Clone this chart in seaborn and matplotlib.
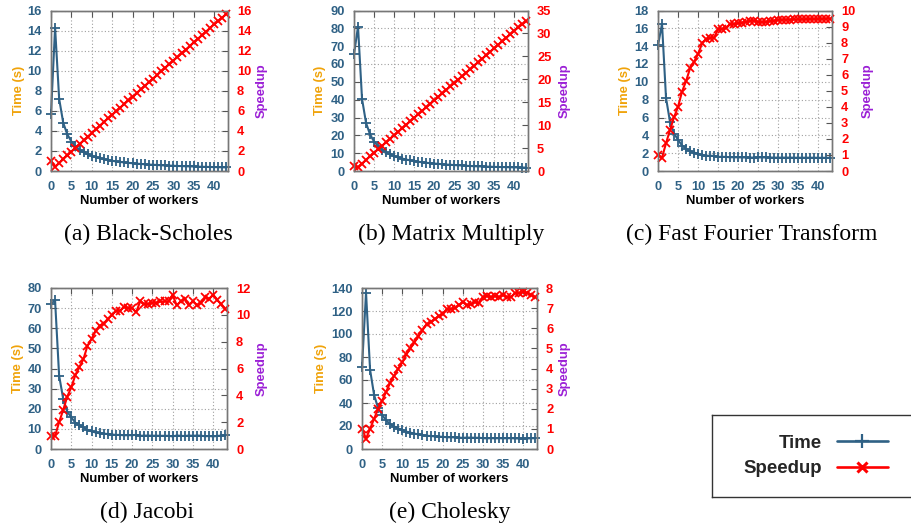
import matplotlib
matplotlib.use("Agg")
import matplotlib.pyplot as plt
import seaborn as sns
import numpy as np
from matplotlib.lines import Line2D

sns.set_theme(style="white")
plt.rcParams['font.family'] = ['Liberation Sans', 'DejaVu Sans']

workers = list(range(44))

bs_time = [5.7, 14.3, 7.2, 4.8, 3.65, 2.94, 2.47, 2.13, 1.87, 1.67, 1.50, 1.37, 1.26, 1.17, 1.09,
           1.02, 0.95, 0.90, 0.85, 0.81, 0.77, 0.73, 0.70, 0.67, 0.64, 0.62, 0.60, 0.57, 0.55,
           0.54, 0.52, 0.50, 0.49, 0.47, 0.46, 0.45, 0.43, 0.42, 0.41, 0.40, 0.39, 0.38, 0.37, 0.36]
bs_speed = [1.0, 0.4, 0.79, 1.18, 1.56, 1.94, 2.31, 2.68, 3.05, 3.42, 3.79, 4.16, 4.53, 4.89, 5.25,
            5.61, 5.97, 6.33, 6.69, 7.05, 7.41, 7.77, 8.13, 8.49, 8.85, 9.21, 9.57, 9.93, 10.29,
            10.65, 11.01, 11.37, 11.73, 12.09, 12.45, 12.81, 13.17, 13.53, 13.89, 14.25, 14.61,
            14.97, 15.30, 15.65]

mm_time = [65.5, 81.0, 40.5, 27.0, 20.5, 16.5, 14.0, 12.0, 10.5, 9.3, 8.4, 7.6, 7.0, 6.4, 6.0,
           5.6, 5.2, 4.9, 4.6, 4.4, 4.2, 4.0, 3.8, 3.6, 3.5, 3.3, 3.2, 3.1, 2.9, 2.8, 2.7, 2.6,
           2.55, 2.45, 2.4, 2.3, 2.25, 2.2, 2.15, 2.1, 2.05, 2.0, 1.95, 1.9]
mm_speed = [1.0, 0.81, 1.62, 2.43, 3.2, 3.97, 4.73, 5.5, 6.26, 7.03, 7.79, 8.55, 9.31, 10.07,
            10.83, 11.59, 12.35, 13.11, 13.87, 14.63, 15.39, 16.15, 16.91, 17.67, 18.43, 19.19,
            19.95, 20.71, 21.47, 22.23, 22.99, 23.75, 24.51, 25.27, 26.03, 26.79, 27.55, 28.31,
            29.07, 29.83, 30.59, 31.35, 32.0, 32.7]

fft_time = [14.1, 16.5, 8.2, 5.5, 4.2, 3.5, 2.85, 2.5, 2.2, 2.07, 1.93, 1.77, 1.72, 1.70, 1.70,
            1.59, 1.59, 1.58, 1.54, 1.54, 1.53, 1.52, 1.52, 1.51, 1.50, 1.52, 1.52, 1.52, 1.51,
            1.50, 1.50, 1.50, 1.50, 1.50, 1.49, 1.49, 1.49, 1.49, 1.49, 1.49, 1.48, 1.48, 1.48, 1.48]
fft_speed = [1.0, 0.83, 1.73, 2.56, 3.35, 4.0, 4.95, 5.6, 6.4, 6.8, 7.3, 7.95, 8.2, 8.3, 8.3,
             8.85, 8.85, 8.9, 9.15, 9.15, 9.2, 9.25, 9.3, 9.35, 9.37, 9.3, 9.27, 9.3, 9.33, 9.37,
             9.42, 9.42, 9.43, 9.43, 9.44, 9.45, 9.45, 9.46, 9.47, 9.47, 9.48, 9.48, 9.49, 9.5]

jac_time = [72.0, 74.0, 36.5, 25.0, 18.6, 15.7, 13.1, 11.8, 10.7, 9.4, 8.8, 8.2, 7.8, 7.7, 7.4,
            7.2, 7.0, 7.0, 6.8, 6.85, 6.85, 7.05, 6.55, 6.65, 6.65, 6.6, 6.6, 6.55, 6.55, 6.55,
            6.25, 6.7, 6.55, 6.45, 6.7, 6.55, 6.7, 6.6, 6.35, 6.45, 6.25, 6.5, 6.65, 6.9]
jac_speed = [1.0, 0.97, 2.0, 2.9, 3.9, 4.6, 5.5, 6.1, 6.7, 7.7, 8.2, 8.8, 9.2, 9.35, 9.7, 10.0,
             10.3, 10.3, 10.6, 10.5, 10.5, 10.2, 11.0, 10.8, 10.8, 10.9, 10.9, 11.0, 11.0, 11.0,
             11.5, 10.7, 11.0, 11.2, 10.7, 11.0, 10.7, 10.9, 11.3, 11.2, 11.5, 11.1, 10.8, 10.4]

cho_time = [71.0, 136.0, 69.0, 47.0, 35.5, 29.6, 24.9, 21.5, 19.5, 17.8, 16.5, 15.1, 14.2, 13.4,
            12.7, 12.0, 11.5, 11.3, 11.0, 10.8, 10.6, 10.2, 10.2, 10.1, 9.9, 9.7, 9.9, 9.9, 9.7,
            9.8, 9.4, 9.3, 9.4, 9.3, 9.4, 9.3, 9.4, 9.4, 9.2, 9.2, 9.1, 9.2, 9.3, 9.4]
cho_speed = [1.0, 0.52, 1.0, 1.5, 2.0, 2.4, 2.85, 3.3, 3.65, 4.0, 4.3, 4.7, 5.0, 5.3, 5.6, 5.9,
             6.2, 6.3, 6.45, 6.6, 6.7, 6.95, 6.95, 7.0, 7.15, 7.3, 7.15, 7.2, 7.3, 7.25, 7.55,
             7.6, 7.55, 7.6, 7.55, 7.65, 7.55, 7.55, 7.75, 7.75, 7.8, 7.75, 7.65, 7.55]

captions = ["(a) Black-Scholes", "(b) Matrix Multiply", "(c) Fast Fourier Transform",
            "(d) Jacobi", "(e) Cholesky"]
x_ticks = [0, 5, 10, 15, 20, 25, 30, 35, 40]

BLUE = "#2f6185"
RED = "#ff0000"
ORANGE = "#f0a30a"
PURPLE = "#9b1fd6"

W, H = 911, 525
fig = plt.figure(figsize=(W / 100, H / 100), dpi=100)

def px_axes(l, t, r, b):
    return fig.add_axes([l / W, 1 - b / H, (r - l) / W, (b - t) / H])

panels = [
    dict(box=(51, 10.5, 228, 171), t=bs_time, s=bs_speed, tmax=16, tstep=2, smax=16, sstep=2,
         tl=-0.181, sl=1.192, cap=(148, 234)),
    dict(box=(354, 10.5, 528, 171), t=mm_time, s=mm_speed, tmax=90, tstep=10, smax=35, sstep=5,
         tl=-0.195, sl=1.213, cap=(451, 234)),
    dict(box=(658, 10.5, 832, 171), t=fft_time, s=fft_speed, tmax=18, tstep=2, smax=10, sstep=1,
         tl=-0.19, sl=1.207, cap=(752, 234)),
    dict(box=(51, 288, 227, 449), t=jac_time, s=jac_speed, tmax=80, tstep=10, smax=12, sstep=2,
         tl=-0.1875, sl=1.199, cap=(147, 512)),
    dict(box=(362, 288, 537, 449), t=cho_time, s=cho_speed, tmax=140, tstep=20, smax=8, sstep=1,
         tl=-0.234, sl=1.16, cap=(450, 512)),
]

tick_font = dict(fontsize=9.3, fontweight='bold')
label_fs = 9.4

for i, p in enumerate(panels):
    ax = px_axes(*p['box'])
    sns.lineplot(x=workers, y=p['t'], ax=ax, color=BLUE, marker='+', markersize=7,
                 markeredgewidth=1.3, linewidth=1.5, markeredgecolor=BLUE, clip_on=False)
    ax2 = ax.twinx()
    sns.lineplot(x=workers, y=p['s'], ax=ax2, color=RED, marker='x', markersize=5.5,
                 markeredgewidth=1.3, linewidth=1.5, markeredgecolor=RED, clip_on=False)
    ax.set_xlim(0, 43.4)
    ax.set_ylim(0, p['tmax'])
    ax2.set_ylim(0, p['smax'])
    ax.set_xticks(x_ticks)
    ax.set_yticks(np.arange(0, p['tmax'] + 0.01, p['tstep']))
    ax2.set_yticks(np.arange(0, p['smax'] + 0.01, p['sstep']))
    ax.set_xticklabels([str(v) for v in x_ticks], color=BLUE, **tick_font)
    ax.set_yticklabels([str(int(v)) for v in ax.get_yticks()], color=BLUE, **tick_font)
    ax2.set_yticklabels([str(int(v)) for v in ax2.get_yticks()], color=RED, **tick_font)
    ax.grid(True, linestyle=(0, (1, 2)), color='#a0a0a0', linewidth=0.8)
    ax.tick_params(axis='x', direction='in', length=4, width=0.8, color='#555555',
                   top=True, pad=7)
    ax.tick_params(axis='y', direction='in', length=4, width=0.8, color='#555555',
                   right=False, pad=6.5)
    ax2.tick_params(axis='y', direction='in', length=4, width=0.8, color='#555555', pad=6.5)
    for a in (ax, ax2):
        for sp in a.spines.values():
            sp.set_color('#777777')
            sp.set_linewidth(1.0)
    ax.set_xlabel("Number of workers", fontsize=label_fs, fontweight='bold', color='black',
                  labelpad=2)
    ax.set_ylabel("Time (s)", fontsize=label_fs, fontweight='bold', color=ORANGE)
    ax2.set_ylabel("Speedup", fontsize=label_fs, fontweight='bold', color=PURPLE)
    ax.yaxis.set_label_coords(p['tl'], 0.5)
    ax2.yaxis.set_label_coords(p['sl'], 0.5)
    ax.yaxis.label.set_va('center')
    ax2.yaxis.label.set_va('center')
    fig.text(p['cap'][0] / W, 1 - p['cap'][1] / H, captions[i], ha='center', va='center',
             fontsize=17, family=['Liberation Serif', 'DejaVu Serif'], color='black')

# legend box
lax = px_axes(712, 415, 912, 497)
lax.set_xticks([])
lax.set_yticks([])
for sp in lax.spines.values():
    sp.set_color('#333333')
    sp.set_linewidth(1.0)
lax.set_facecolor('white')
handles = [Line2D([], [], color=BLUE, marker='+', markersize=10, markeredgewidth=1.6, linewidth=1.9),
           Line2D([], [], color=RED, marker='x', markersize=7, markeredgewidth=2.2, linewidth=1.9)]
leg = lax.legend(handles, ["Time", "Speedup"], loc='center right', bbox_to_anchor=(0.88, 0.5),
                 frameon=False, markerfirst=False, handlelength=2.75, handletextpad=0.8,
                 labelspacing=0.45, borderpad=0, borderaxespad=0,
                 prop=dict(size=13.4, weight='bold'))
for t in leg.get_texts():
    t.set_ha('right')

fig.savefig("out.png", dpi=100)
